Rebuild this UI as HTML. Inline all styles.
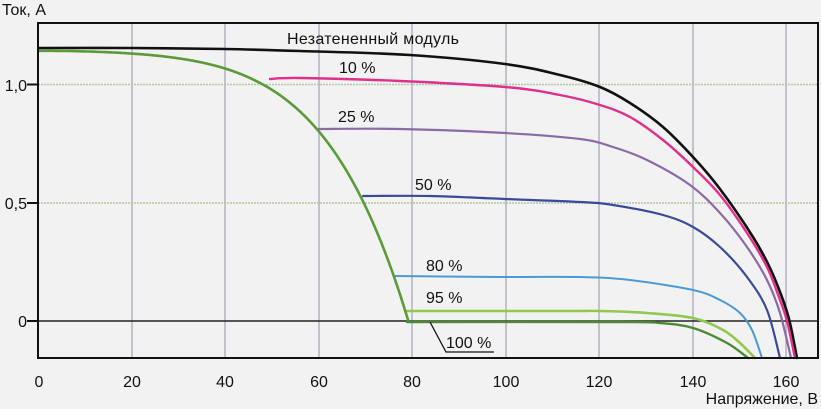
<!DOCTYPE html>
<html><head><meta charset="utf-8"><style>
html,body{margin:0;padding:0;background:#f2f2f2;}
svg{display:block;font-family:"Liberation Sans",sans-serif;}
</style></head><body>
<svg id="s" width="821" height="409" viewBox="0 0 821 409" xmlns="http://www.w3.org/2000/svg">
<rect width="821" height="409" fill="#f2f2f2"/>
<g stroke="#a8a8b8" stroke-width="1.3">
<line x1="132" y1="23" x2="132" y2="358"/><line x1="225" y1="23" x2="225" y2="358"/>
<line x1="319" y1="23" x2="319" y2="358"/><line x1="412" y1="23" x2="412" y2="358"/>
<line x1="506" y1="23" x2="506" y2="358"/><line x1="599" y1="23" x2="599" y2="358"/>
<line x1="693" y1="23" x2="693" y2="358"/><line x1="786" y1="23" x2="786" y2="358"/>
</g>
<g stroke="#b4c4a4" stroke-width="1.5" stroke-dasharray="2,1">
<line x1="38" y1="84.5" x2="818" y2="84.5"/><line x1="38" y1="203" x2="818" y2="203"/>
</g>
<line x1="38" y1="321" x2="818" y2="321" stroke="#222" stroke-width="1.5"/>
<g fill="none" stroke-linejoin="round" stroke-linecap="round">
<path id="c0" stroke="#111" stroke-width="2.6"/>
<path id="c1" stroke="#e0308a" stroke-width="2.4"/>
<path id="c2" stroke="#8a6aa8" stroke-width="2.2"/>
<path id="c3" stroke="#3a4a9a" stroke-width="2.2"/>
<path id="c4" stroke="#4a9ad8" stroke-width="2"/>
<path id="c5" stroke="#90c850" stroke-width="2.6"/>
<path id="c6" stroke="#4a8a30" stroke-width="2.4"/>
<polyline id="c7" stroke="#5a9a3a" stroke-width="2.6" points=""/>
</g>
<rect x="38" y="23" width="780" height="335" fill="none" stroke="#111" stroke-width="2"/>
<g stroke="#111" stroke-width="2">
<line x1="27" y1="84.5" x2="38" y2="84.5"/><line x1="27" y1="203" x2="38" y2="203"/><line x1="27" y1="321" x2="38" y2="321"/>
</g>
<polyline points="430,322 446,352 494,352" fill="none" stroke="#111" stroke-width="1.3"/>
<g font-size="16" fill="#111">
<text x="2" y="15">Ток, А</text>
<text x="287" y="44" textLength="172">Незатененный модуль</text>
<text x="339" y="73">10 %</text>
<text x="338" y="122">25 %</text>
<text x="415" y="190">50 %</text>
<text x="426" y="271">80 %</text>
<text x="426" y="303">95 %</text>
<text x="446" y="348">100 %</text>
<text x="27" y="91" text-anchor="end">1,0</text>
<text x="27" y="209" text-anchor="end">0,5</text>
<text x="27" y="327" text-anchor="end">0</text>
<g text-anchor="middle">
<text x="39" y="387">0</text><text x="132" y="387">20</text><text x="225" y="387">40</text><text x="319" y="387">60</text>
<text x="412" y="387">80</text><text x="506" y="387">100</text><text x="599" y="387">120</text><text x="693" y="387">140</text><text x="786" y="387">160</text>
</g>
<text x="818" y="404" text-anchor="end">Напряжение, В</text>
</g>
</svg>
<script>
function sm(pts){
  var d="M"+pts[0][0]+","+pts[0][1];
  for(var i=0;i<pts.length-1;i++){
    var p0=pts[i>0?i-1:i],p1=pts[i],p2=pts[i+1],p3=pts[i+2<pts.length?i+2:i+1];
    var c1x=p1[0]+(p2[0]-p0[0])/6,c1y=p1[1]+(p2[1]-p0[1])/6;
    var c2x=p2[0]-(p3[0]-p1[0])/6,c2y=p2[1]-(p3[1]-p1[1])/6;
    d+=" C"+c1x.toFixed(1)+","+c1y.toFixed(1)+" "+c2x.toFixed(1)+","+c2y.toFixed(1)+" "+p2[0]+","+p2[1];
  }
  return d;
}
var C=[
[[39,48],[130,48],[225,49],[300,51],[410,55],[505,64],[560,75],[600,87],[630,103],[663,127],[693,157],[720,189],[753,237],[770,268],[783,300],[790,323],[797,358]],
[[270,79],[300,78],[400,81],[505,87],[560,95],[600,105],[630,117],[663,140],[693,167],[720,195],[747,233],[767,267],[780,300],[787,321],[795,358]],
[[319,129],[400,129],[505,133],[580,139],[613,147],[647,160],[690,185],[720,213],[747,247],[767,280],[780,313],[791,358]],
[[363,196],[430,196],[505,199],[580,202],[613,205],[663,215],[693,227],[720,247],[747,277],[767,310],[780,358]],
[[395,276],[500,277],[580,277],[630,280],[693,290],[720,300],[740,313],[752,330],[762,358]],
[[407,311],[560,311],[600,311],[647,313],[693,318],[723,330],[740,343],[755,358]],
[[407,322],[620,322],[660,323],[693,328],[727,343],[748,358]]
];
for(var i=0;i<C.length;i++)document.getElementById("c"+i).setAttribute("d",sm(C[i]));
var p=[];
for(var x=39;x<=408;x+=1){var r=(x-39)/4.675/79;var I=1.145-1.145*(0.85*Math.pow(r,5)+0.15*r*r);if(I<0)I=0;p.push(x+","+(321-I*236).toFixed(1));}
document.getElementById("c7").setAttribute("points",p.join(" "));
</script>
</body></html>
